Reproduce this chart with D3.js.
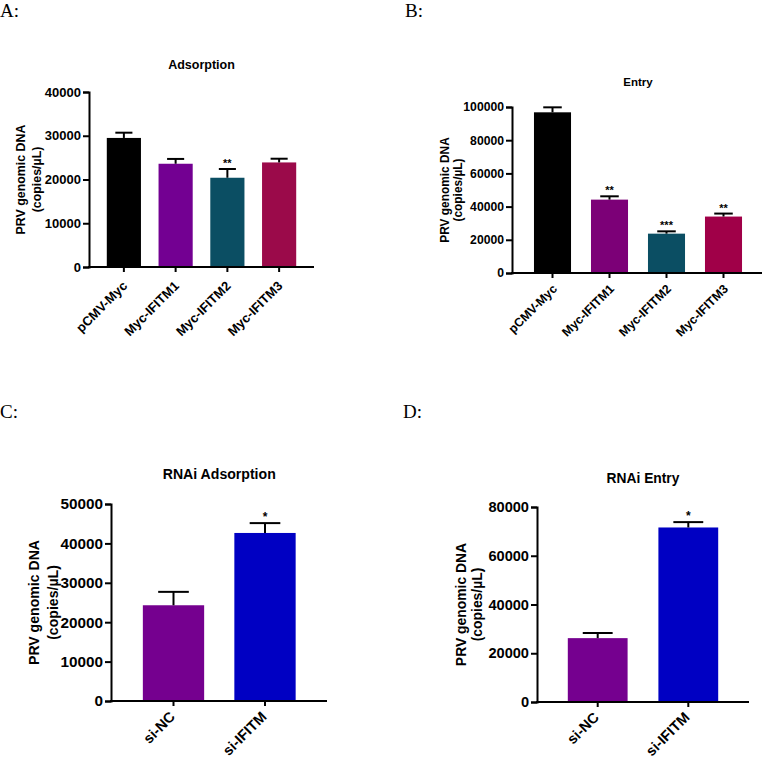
<!DOCTYPE html>
<html>
<head>
<meta charset="utf-8">
<script src="https://cdn.jsdelivr.net/npm/d3@7"></script>
<style>
  html, body { margin: 0; padding: 0; background: #fff; }
  svg { display: block; }
  text { font-family: "Liberation Sans", Arial, sans-serif; }
</style>
</head>
<body>
<svg id="chart" width="762" height="759"></svg>
<script>
// ---------- DATA ----------
const overexpCategories = ["pCMV-Myc", "Myc-IFITM1", "Myc-IFITM2", "Myc-IFITM3"];
const adsorptionMeans  = [29500, 23600, 20400, 23900];
const adsorptionErrors = [1200, 1100, 2000, 850];
const adsorptionStars  = ["", "", "**", ""];
const adsorptionTicks  = [0, 10000, 20000, 30000, 40000];

const entryMeans  = [96800, 44200, 23700, 34000];
const entryErrors = [3000, 2000, 1400, 1800];
const entryStars  = ["", "**", "***", "**"];
const entryTicks  = [0, 20000, 40000, 60000, 80000, 100000];

const rnaiCategories = ["si-NC", "si-IFITM"];
const rnaiAdsorptionMeans  = [24300, 42650];
const rnaiAdsorptionErrors = [3400, 2500];
const rnaiAdsorptionStars  = ["", "*"];
const rnaiAdsorptionTicks  = [0, 10000, 20000, 30000, 40000, 50000];

const rnaiEntryMeans  = [26200, 71600];
const rnaiEntryErrors = [2100, 2200];
const rnaiEntryStars  = ["", "*"];
const rnaiEntryTicks  = [0, 20000, 40000, 60000, 80000];

const yLabel1 = "PRV genomic DNA";
const yLabel2 = "(copies/\u00B5L)";

// ---------- STYLE / LAYOUT ----------
const panels = [
  { letter: "A:", lx: 0, ly: 16.5, title: "Adsorption", titleY: 69, titleSize: 12.5,
    cats: overexpCategories, means: adsorptionMeans, errs: adsorptionErrors, stars: adsorptionStars, ticks: adsorptionTicks,
    colors: ["#000000", "#730092", "#0b4e63", "#9b0a4a"],
    axisX: 89, y0: 267, y1: 92, bandR: [98, 305], padIn: 0.34, axisEnd: 314,
    tickFont: 13, labFont: 12.4, xFont: 13, xlx: -11, xly: 12.3, starFont: 11, lab1X: 24.5, lab2X: 41 },
  { letter: "B:", lx: 405, ly: 16.5, title: "Entry", titleY: 86, titleSize: 11.5,
    cats: overexpCategories, means: entryMeans, errs: entryErrors, stars: entryStars, ticks: entryTicks,
    colors: ["#000000", "#7c0077", "#0b4e63", "#a00048"],
    axisX: 512, y0: 273, y1: 107, bandR: [524, 752], padIn: 0.35, axisEnd: 762,
    tickFont: 12.2, labFont: 11.9, xFont: 12.4, xlx: -8, xly: 11.2, starFont: 11, lab1X: 449, lab2X: 462 },
  { letter: "C:", lx: 0, ly: 418, title: "RNAi Adsorption", titleY: 479, titleSize: 14.1,
    cats: rnaiCategories, means: rnaiAdsorptionMeans, errs: rnaiAdsorptionErrors, stars: rnaiAdsorptionStars, ticks: rnaiAdsorptionTicks,
    colors: ["#75008f", "#0000c3"],
    axisX: 111, y0: 701, y1: 504, bandR: [127.75, 310.75], padIn: 0.33, axisEnd: 327,
    tickFont: 15.3, labFont: 14.1, xFont: 14.5, xlx: -10, xly: 8.5, starFont: 12, lab1X: 38.5, lab2X: 58 },
  { letter: "D:", lx: 403, ly: 418, title: "RNAi Entry", titleY: 483, titleSize: 13.8,
    cats: rnaiCategories, means: rnaiEntryMeans, errs: rnaiEntryErrors, stars: rnaiEntryStars, ticks: rnaiEntryTicks,
    colors: ["#75008f", "#0000c3"],
    axisX: 537, y0: 702, y1: 507, bandR: [552.4, 733.6], padIn: 0.34, axisEnd: 749,
    tickFont: 14.6, labFont: 13.9, xFont: 14.5, xlx: -10, xly: 8, starFont: 12, lab1X: 465.5, lab2X: 482 }
];

const svg = d3.select("#chart");

panels.forEach(p => {
  const g = svg.append("g");

  // panel letter
  g.append("text").attr("x", p.lx).attr("y", p.ly)
    .style("font-family", "'Liberation Serif', 'Times New Roman', serif")
    .style("font-size", "19px").text(p.letter);

  const x = d3.scaleBand().domain(p.cats).range(p.bandR)
    .paddingInner(p.padIn).paddingOuter(p.padIn / 2);
  const y = d3.scaleLinear().domain([0, d3.max(p.ticks)]).range([p.y0, p.y1]);

  // title
  g.append("text")
    .attr("x", (x.range()[0] + x.range()[1]) / 2)
    .attr("y", p.titleY).attr("text-anchor", "middle")
    .style("font-weight", "bold").style("font-size", p.titleSize + "px")
    .text(p.title);

  // bars
  const data = p.cats.map((c, i) => ({ c, m: p.means[i], e: p.errs[i], s: p.stars[i], col: p.colors[i] }));
  g.selectAll("rect.bar").data(data).enter().append("rect")
    .attr("class", "bar")
    .attr("x", d => x(d.c)).attr("width", x.bandwidth())
    .attr("y", d => y(d.m)).attr("height", d => y(0) - y(d.m))
    .attr("fill", d => d.col);

  // error bars (upper only)
  const eg = g.selectAll("g.err").data(data).enter().append("g").attr("class", "err");
  eg.append("line")
    .attr("x1", d => x(d.c) + x.bandwidth() / 2).attr("x2", d => x(d.c) + x.bandwidth() / 2)
    .attr("y1", d => y(d.m)).attr("y2", d => y(d.m + d.e))
    .attr("stroke", "#000").attr("stroke-width", 2);
  eg.append("line")
    .attr("x1", d => x(d.c) + x.bandwidth() * 0.25).attr("x2", d => x(d.c) + x.bandwidth() * 0.75)
    .attr("y1", d => y(d.m + d.e)).attr("y2", d => y(d.m + d.e))
    .attr("stroke", "#000").attr("stroke-width", 2);

  // significance stars
  g.selectAll("text.star").data(data.filter(d => d.s)).enter().append("text")
    .attr("class", "star")
    .attr("x", d => x(d.c) + x.bandwidth() / 2)
    .attr("y", d => y(d.m + d.e) - 2)
    .attr("text-anchor", "middle")
    .style("font-size", p.starFont + "px").style("font-weight", "bold")
    .text(d => d.s);

  // y axis
  const yAxis = d3.axisLeft(y).tickValues(p.ticks).tickSize(6).tickSizeOuter(6).tickPadding(2)
    .tickFormat(d3.format("d"));
  const ya = g.append("g").attr("transform", `translate(${p.axisX},0)`).call(yAxis);
  ya.selectAll("path, line").attr("stroke", "#000").attr("stroke-width", 2);
  ya.selectAll("text").style("font-size", p.tickFont + "px").style("font-weight", "bold")
    .style("font-family", "'Liberation Sans', Arial, sans-serif").attr("fill", "#000");

  // x axis
  const xAxis = d3.axisBottom(x).tickSize(5).tickSizeOuter(0);
  const xa = g.append("g").attr("transform", `translate(0,${p.y0})`).call(xAxis);
  xa.select(".domain").remove();
  xa.selectAll("line").attr("stroke", "#000").attr("stroke-width", 2);
  xa.selectAll("text")
    .attr("x", p.xlx).attr("y", p.xly).attr("dy", "0.35em")
    .attr("transform", "rotate(-45)")
    .attr("text-anchor", "end")
    .style("font-size", p.xFont + "px").style("font-weight", "bold")
    .style("font-family", "'Liberation Sans', Arial, sans-serif").attr("fill", "#000");
  g.append("line").attr("x1", p.axisX - 1).attr("x2", p.axisEnd)
    .attr("y1", p.y0).attr("y2", p.y0).attr("stroke", "#000").attr("stroke-width", 2);

  // y axis label
  const cy = (p.y0 + p.y1) / 2;
  g.append("text").attr("transform", `translate(${p.lab1X},${cy}) rotate(-90)`)
    .attr("text-anchor", "middle").style("font-weight", "bold").style("font-size", p.labFont + "px")
    .text(yLabel1);
  g.append("text").attr("transform", `translate(${p.lab2X},${cy}) rotate(-90)`)
    .attr("text-anchor", "middle").style("font-weight", "bold").style("font-size", p.labFont + "px")
    .text(yLabel2);
});
</script>
</body>
</html>
